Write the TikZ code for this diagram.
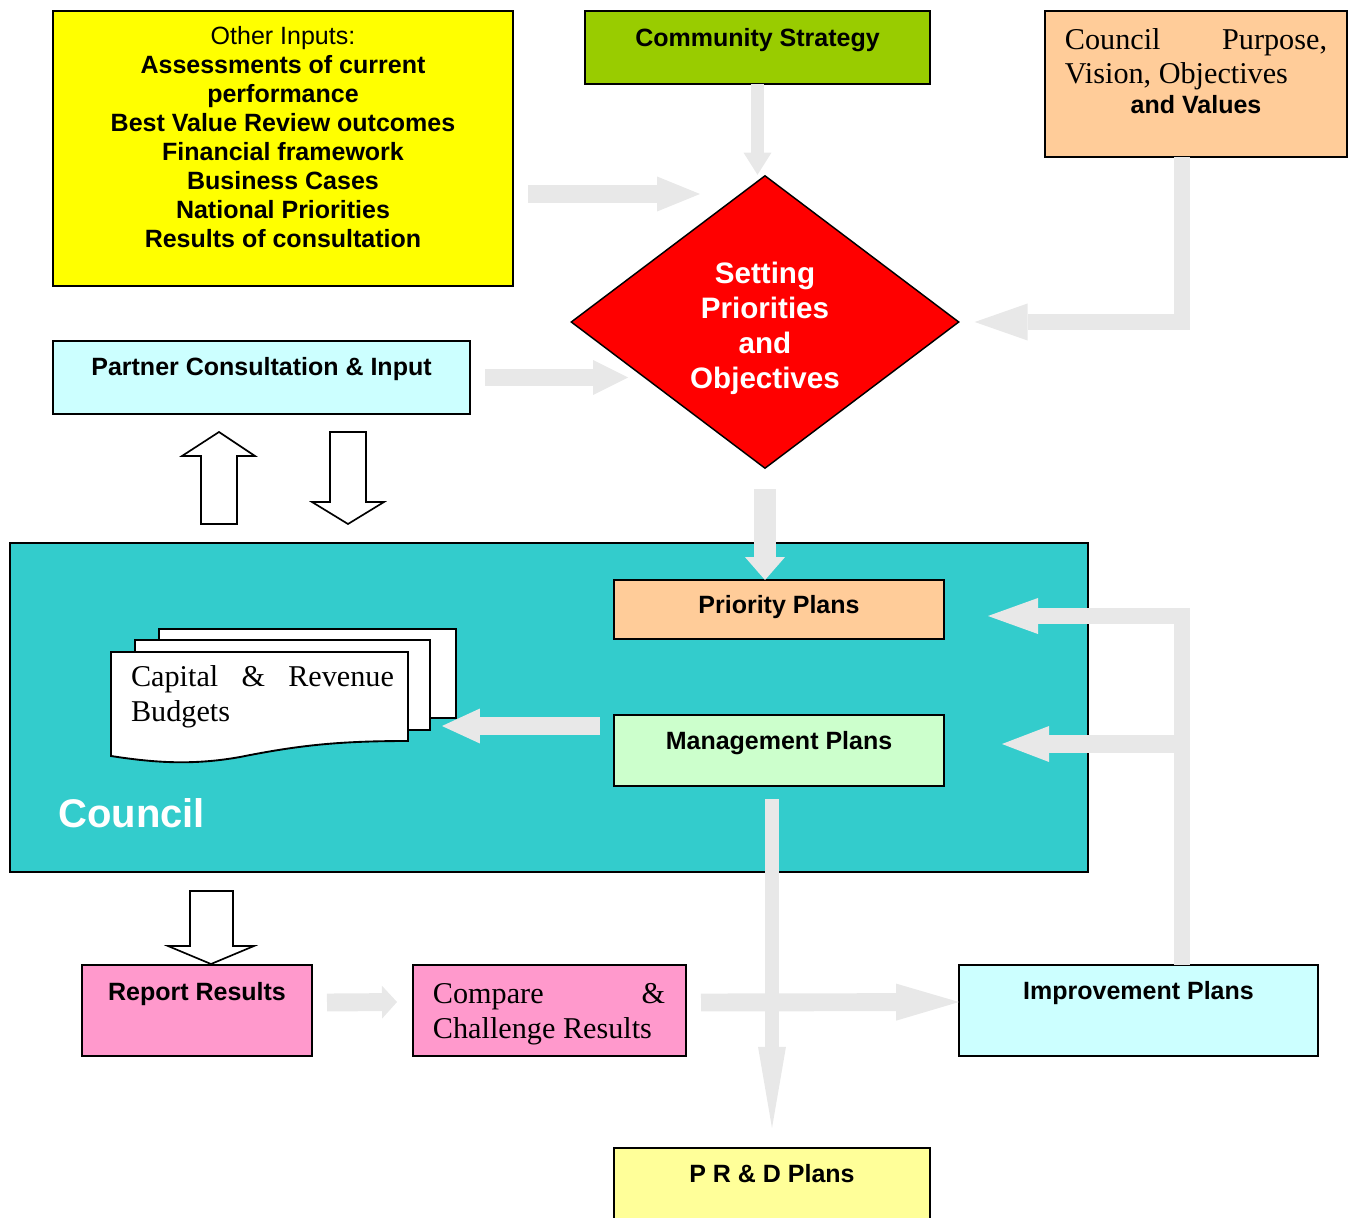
\documentclass[tikz,border=0pt]{standalone}
\usepackage{fontspec}
\setmainfont{Liberation Serif}
\setsansfont{Liberation Sans}
\usetikzlibrary{shapes.geometric,arrows.meta,calc}
\newcommand{\pxu}{0.48pt}
\definecolor{cInput}{HTML}{FFFF00}
\definecolor{cStrategy}{HTML}{99CC00}
\definecolor{cPeach}{HTML}{FFCC99}
\definecolor{cRed}{HTML}{FF0000}
\definecolor{cCyan}{HTML}{CCFFFF}
\definecolor{cCouncil}{HTML}{33CCCC}
\definecolor{cMint}{HTML}{CCFFCC}
\definecolor{cPink}{HTML}{FF99CC}
\definecolor{cPale}{HTML}{FFFF99}
\definecolor{cArrow}{HTML}{E8E8E8}
\tikzset{
  box/.style={draw, line width=1pt, inner sep=0pt, outer sep=0pt, anchor=north west},
  lbl/.style={anchor=base, inner sep=0pt, font=\sffamily\bfseries\fontsize{12}{13.9}\selectfont},
  serif/.style={anchor=base, inner sep=0pt, align=center, font=\rmfamily\fontsize{14.5}{16.8}\selectfont},
  hollow/.style={draw, line width=0.8pt, fill=white, line join=miter},
  sheet/.style={draw, line width=0.9pt, fill=white},
  garrow/.style n args={3}{draw=cArrow, line width=#1, -{Triangle[length=#3, width=#2, line width=0pt]}}
}
\begin{document}
\begin{tikzpicture}[x=0.48pt, y=-0.48pt]
\useasboundingbox (0,0) rectangle (1352,1218);

% top row
\node[box, fill=cInput, minimum width=460*\pxu, minimum height=275*\pxu] (inp) at (53,11) {};
\node[lbl, align=center] (inp-t) at (283,247.5) {{\mdseries Other Inputs:}\\Assessments of current\\performance\\Best Value Review outcomes\\Financial framework\\Business Cases\\National Priorities\\Results of consultation};
\node[box, fill=cStrategy, minimum width=345*\pxu, minimum height=73*\pxu] (cs) at (585,11) {};
\node[lbl] (cs-t) at (757.5,47) {Community Strategy};
\node[box, fill=cPeach, minimum width=302*\pxu, minimum height=146*\pxu] (cpv) at (1045,11) {};
\node[serif, font=\rmfamily\fontsize{14.5}{16.3}\selectfont] (cpv-t) at (1196,114) {\makebox[125.8pt][s]{Council Purpose,}\\\makebox[125.8pt][l]{Vision, Objectives}\\[-1.5pt]{\sffamily\bfseries\fontsize{12}{14}\selectfont and Values}};

% setting priorities
\node[diamond, draw, line width=0.7pt, fill=cRed, inner sep=0pt, minimum width=388*\pxu, minimum height=293*\pxu] (dia) at (765,322) {};
\node[anchor=base, inner sep=0pt, text=white, align=center, font=\sffamily\bfseries\fontsize{14.2}{16.8}\selectfont] (dia-t) at (765,388) {Setting\\Priorities\\and\\Objectives};

\node[box, fill=cCyan, minimum width=417*\pxu, minimum height=73*\pxu] (part) at (53,341) {};
\node[lbl] (part-t) at (261.5,375) {Partner Consultation \& Input};

% council
\node[box, fill=cCouncil, minimum width=1078*\pxu, minimum height=329*\pxu] (coun) at (10,543) {};
\node[anchor=base west, inner sep=0pt, text=white, font=\sffamily\bfseries\fontsize{19.2}{22}\selectfont] (coun-t) at (58,827) {Council};
\node[box, fill=cPeach, minimum width=330*\pxu, minimum height=59*\pxu] (pp) at (614,580) {};
\node[lbl] (pp-t) at (779,613) {Priority Plans};
\node[box, fill=cMint, minimum width=330*\pxu, minimum height=71*\pxu] (mp) at (614,715) {};
\node[lbl] (mp-t) at (779,749) {Management Plans};

\draw[sheet] (159,629) rectangle (456,718);
\draw[sheet] (135,640) rectangle (430,730);
\draw[sheet] (111,756) -- (111,652) -- (408,652) -- (408,741)
  .. controls (340,741) and (300,745) .. (240,757)
  .. controls (190,766) and (150,762) .. (111,756) -- cycle;
\node[serif] (budg) at (262.5,721) {\makebox[126.2pt][s]{Capital \& Revenue}\\\makebox[126.2pt][l]{Budgets}};

% bottom row
\node[box, fill=cPink, minimum width=230*\pxu, minimum height=91*\pxu] (rep) at (82,965) {};
\node[lbl] (rep-t) at (197,1000) {Report Results};
\node[box, fill=cPink, minimum width=273*\pxu, minimum height=91*\pxu] (cmp) at (413,965) {};
\node[serif] (cmp-t) at (549,1038) {\makebox[111.4pt][s]{Compare \&}\\\makebox[111.4pt][l]{Challenge Results}};
\node[box, fill=cCyan, minimum width=359*\pxu, minimum height=91*\pxu] (imp) at (959,965) {};
\node[lbl] (imp-t) at (1138.5,999) {Improvement Plans};
\node[box, fill=cPale, minimum width=316*\pxu, minimum height=90*\pxu] (prd) at (614,1148) {};
\node[lbl] (prd-t) at (772,1182) {P R \& D Plans};

% hollow arrows
\draw[hollow] (201,524) -- (201,456) -- (182,456) -- (219,432) -- (255,456) -- (237,456) -- (237,524) -- cycle;
\draw[hollow] (330,432) -- (366,432) -- (366,502) -- (384,502) -- (348,524) -- (312,502) -- (330,502) -- cycle;
\draw[hollow] (190,891) -- (233,891) -- (233,946) -- (254,946) -- (211,964) -- (168,946) -- (190,946) -- cycle;

% grey arrows
\draw[garrow={6.7pt}{13.4pt}{10.6pt}] (cs.south) -- (cs.south |- dia.north);
\draw[garrow={8.6pt}{16.8pt}{20.6pt}] ($(inp.east |- 0,194)+(15,0)$) -- (700,194);
\draw[garrow={8.2pt}{16.8pt}{16.8pt}] ($(part.east)+(15,0)$) -- ++(143,0);
\draw[garrow={8pt}{17.8pt}{25.4pt}] (cpv.south -| 1182,0) |- ($(dia.east)+(15,0)$);
\draw[garrow={10.1pt}{19.2pt}{11pt}] ($(dia.south)+(0,20)$) -- (dia.south |- pp.north);
\draw[garrow={7.4pt}{17.3pt}{24pt}] (imp.north -| 1182,0) |- (988,616);
\draw[garrow={8.6pt}{17.3pt}{22.6pt}] (1182,744) -- (1002,744);
\draw[garrow={8.6pt}{16.8pt}{18.2pt}] (600,726) -- (442,726);
\draw[garrow={8.6pt}{15.8pt}{7.2pt}] ($(rep.east)+(15,-8)$) -- (397,1002);
\draw[garrow={8.6pt}{17.8pt}{30.2pt}] ($(cmp.east)+(15,-8)$) -- (imp.west |- 0,1002);
\draw[garrow={6.7pt}{13.4pt}{38.9pt}] (prd.north |- 0,799) -- ($(prd.north)+(0,-20)$);
\end{tikzpicture}
\end{document}
